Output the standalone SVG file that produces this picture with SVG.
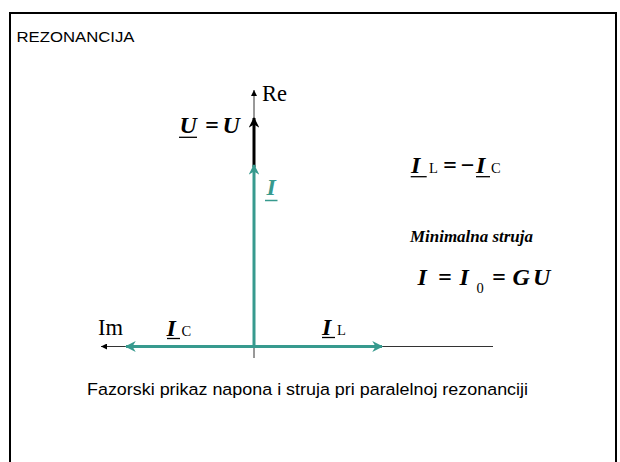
<svg xmlns="http://www.w3.org/2000/svg" width="620" height="462" viewBox="0 0 620 462">
<style>
.ax{stroke:#333;stroke-width:1;fill:none}
.teal{stroke:#379a8e;stroke-width:3;fill:none}
.blk{stroke:#000;stroke-width:3;fill:none}
.ul{stroke:#000;stroke-width:1.3}
.sans{font-family:"Liberation Sans",Arial,sans-serif;fill:#000}
.ser{font-family:"Liberation Serif","Times New Roman",serif;fill:#000}
.bi{font-family:"Liberation Serif","Times New Roman",serif;font-weight:bold;font-style:italic}
.sub{font-family:"Liberation Serif","Times New Roman",serif;font-weight:normal;font-style:normal}
</style>
<defs>
<marker id="ah" viewBox="0 0 10 10" refX="10" refY="5" markerWidth="6" markerHeight="6" markerUnits="userSpaceOnUse" orient="auto"><path d="M0,0L10,5L0,10z" fill="#000"/></marker>
<marker id="at" viewBox="0 0 10 10" refX="9" refY="5" markerWidth="4" markerHeight="3.6" orient="auto"><path d="M0,0L10,5L0,10L3,5z" fill="#379a8e"/></marker>
<marker id="ab" viewBox="0 0 10 10" refX="9" refY="5" markerWidth="4" markerHeight="3.6" orient="auto"><path d="M0,0L10,5L0,10L3,5z" fill="#000"/></marker>
</defs>
<rect x="10" y="13" width="606" height="460" fill="#fff" stroke="#000" stroke-width="2"/>
<text class="sans" x="16.5" y="42" font-size="15" textLength="118" lengthAdjust="spacingAndGlyphs">REZONANCIJA</text>
<g id="connectors">
<line class="ax" x1="254" y1="358" x2="254" y2="90" marker-end="url(#ah)"/>
<line class="ax" x1="493" y1="346.5" x2="101" y2="346.5" marker-end="url(#ah)"/>
<line class="blk" x1="254" y1="167" x2="254" y2="118" marker-end="url(#ab)"/>
<line class="teal" x1="254" y1="346.5" x2="254" y2="165" marker-end="url(#at)"/>
<line class="teal" x1="254" y1="346.5" x2="126" y2="346.5" marker-end="url(#at)"/>
<line class="teal" x1="254" y1="346.5" x2="382" y2="346.5" marker-end="url(#at)"/>
</g>
<g id="labels">
<text class="ser" x="262" y="101" font-size="22.5">Re</text>
<text class="ser" x="98" y="335" font-size="22.5">Im</text>
<text class="bi" y="133" font-size="24"><tspan x="179.5">U</tspan><tspan x="205">=</tspan><tspan x="222.5">U</tspan></text>
<line class="ul" x1="179" y1="137.3" x2="197" y2="137.3"/>
<text class="bi" x="266.5" y="195" font-size="24" fill="#379a8e">I</text>
<line x1="265" y1="200.5" x2="277.5" y2="200.5" stroke="#379a8e" stroke-width="1.5"/>
<text class="bi" y="336" font-size="24"><tspan x="166.5">I</tspan><tspan class="sub" x="181.5" font-size="14.5">C</tspan></text>
<line class="ul" x1="167" y1="338.5" x2="180" y2="338.5"/>
<text class="bi" y="335" font-size="24"><tspan x="322">I</tspan><tspan class="sub" x="337" font-size="14.5">L</tspan></text>
<line class="ul" x1="322" y1="337.5" x2="335" y2="337.5"/>
<text class="bi" y="173" font-size="24"><tspan x="411">I</tspan><tspan class="sub" x="429" font-size="14.5">L</tspan><tspan x="443">=</tspan><tspan x="460">−</tspan><tspan x="476">I</tspan><tspan class="sub" x="491" font-size="14.5">C</tspan></text>
<line class="ul" x1="410.7" y1="176.7" x2="426.7" y2="176.7"/>
<line class="ul" x1="476" y1="176.7" x2="490" y2="176.7"/>
<text class="bi" x="410" y="242" font-size="16.5" textLength="123" lengthAdjust="spacingAndGlyphs">Minimalna struja</text>
<text class="bi" y="285" font-size="24"><tspan x="417.5">I</tspan><tspan x="438">=</tspan><tspan x="459.5">I</tspan><tspan class="sub" x="476.5" y="293" font-size="14.5">0</tspan><tspan x="492" y="285">=</tspan><tspan x="512.5">G</tspan><tspan x="533">U</tspan></text>
</g>
<text class="sans" x="87" y="395" font-size="16.3" textLength="441" lengthAdjust="spacingAndGlyphs">Fazorski prikaz napona i struja pri paralelnoj rezonanciji</text>
</svg>
